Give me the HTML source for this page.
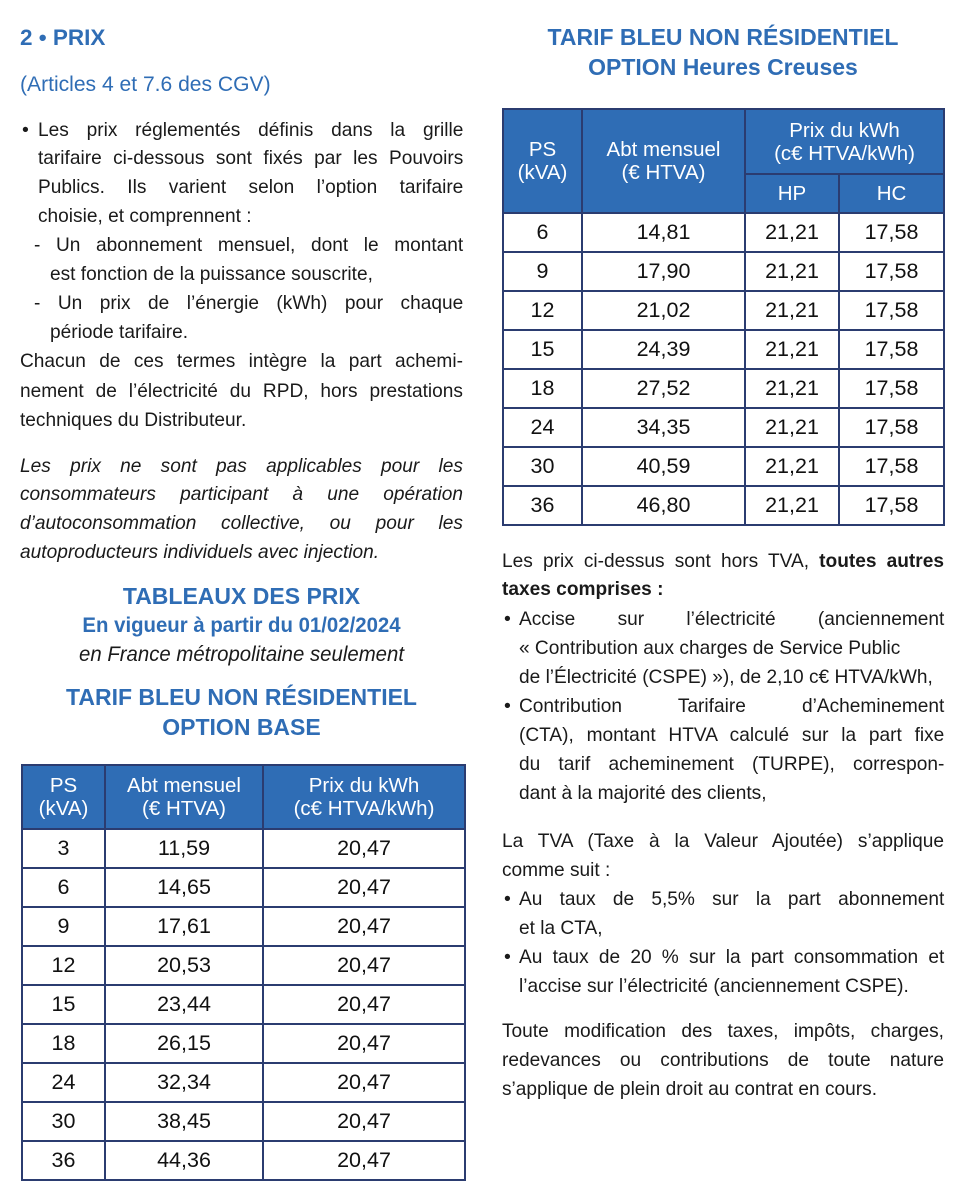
<!DOCTYPE html>
<html><head><meta charset="utf-8"><style>
body{margin:0;width:976px;height:1192px;background:#fff;position:relative;overflow:hidden;font-family:"Liberation Sans",sans-serif;color:#1a1a1a}
.l{position:absolute;font-size:19.5px;line-height:28px;height:28px;transform:scaleX(.98);transform-origin:left top;white-space:nowrap}
.j{white-space:normal;text-align:justify;text-align-last:justify;overflow:visible}
.b{color:#2f6db5;font-weight:bold}
.c{position:absolute;text-align:center;white-space:nowrap;transform-origin:center top}
table{position:absolute;border-collapse:collapse;table-layout:fixed}
td{border:2px solid #2b3c70;text-align:center;font-size:21.5px;height:37px;padding:0;color:#111}
th{border:2px solid #2b3c70;background:#2f6db5;color:#fff;font-weight:normal;font-size:20.5px;line-height:23px;padding:0}
</style></head><body>
<div class="l b" style="left:20px;top:24px;font-size:22.5px;transform:none">2 • PRIX</div>
<div class="l" style="left:20px;top:70px;color:#2f6db5;font-size:21.5px">(Articles 4 et 7.6 des CGV)</div>
<div class="l" style="left:22px;top:116px;transform:none">•</div>
<div class="l j" style="left:38px;top:116px;width:434px">Les prix réglementés définis dans la grille</div>
<div class="l j" style="left:38px;top:144px;width:434px">tarifaire ci-dessous sont fixés par les Pouvoirs</div>
<div class="l j" style="left:38px;top:173px;width:434px">Publics. Ils varient selon l’option tarifaire</div>
<div class="l" style="left:38px;top:202px">choisie, et comprennent :</div>
<div class="l j" style="left:34px;top:231px;width:438px">- Un abonnement mensuel, dont le montant</div>
<div class="l" style="left:50px;top:260px">est fonction de la puissance souscrite,</div>
<div class="l j" style="left:34px;top:289px;width:438px">- Un prix de l’énergie (kWh) pour chaque</div>
<div class="l" style="left:50px;top:318px">période tarifaire.</div>
<div class="l j" style="left:20px;top:347px;width:452px">Chacun de ces termes intègre la part achemi-</div>
<div class="l j" style="left:20px;top:377px;width:452px">nement de l’électricité du RPD, hors prestations</div>
<div class="l" style="left:20px;top:406px">techniques du Distributeur.</div>
<div class="l j" style="left:20px;top:452px;width:452px;font-style:italic">Les prix ne sont pas applicables pour les</div>
<div class="l j" style="left:20px;top:480px;width:452px;font-style:italic">consommateurs participant à une opération</div>
<div class="l j" style="left:20px;top:509px;width:452px;font-style:italic">d’autoconsommation collective, ou pour les</div>
<div class="l" style="left:20px;top:538px;font-style:italic">autoproducteurs individuels avec injection.</div>
<div class="c b" style="left:20px;width:443px;top:583px;font-size:23px">TABLEAUX DES PRIX</div>
<div class="c b" style="left:20px;width:443px;top:614px;font-size:21px;transform:scaleX(.97)">En vigueur à partir du 01/02/2024</div>
<div class="c" style="left:20px;width:443px;top:643px;font-size:21px;font-style:italic;transform:scaleX(.97)">en France métropolitaine seulement</div>
<div class="c b" style="left:20px;width:443px;top:684px;font-size:23px">TARIF BLEU NON RÉSIDENTIEL</div>
<div class="c b" style="left:20px;width:443px;top:714px;font-size:23px">OPTION BASE</div>
<div class="c b" style="left:502px;width:442px;top:24px;font-size:23px">TARIF BLEU NON RÉSIDENTIEL</div>
<div class="c b" style="left:502px;width:442px;top:54px;font-size:23px">OPTION Heures Creuses</div>

<table style="left:21px;top:764px;width:443px">
<colgroup><col style="width:83px"><col style="width:158px"><col style="width:202px"></colgroup>
<tr><th style="height:62px">PS<br>(kVA)</th><th>Abt mensuel<br>(€ HTVA)</th><th>Prix du kWh<br>(c€ HTVA/kWh)</th></tr>
<tr><td>3</td><td>11,59</td><td>20,47</td></tr>
<tr><td>6</td><td>14,65</td><td>20,47</td></tr>
<tr><td>9</td><td>17,61</td><td>20,47</td></tr>
<tr><td>12</td><td>20,53</td><td>20,47</td></tr>
<tr><td>15</td><td>23,44</td><td>20,47</td></tr>
<tr><td>18</td><td>26,15</td><td>20,47</td></tr>
<tr><td>24</td><td>32,34</td><td>20,47</td></tr>
<tr><td>30</td><td>38,45</td><td>20,47</td></tr>
<tr><td>36</td><td>44,36</td><td>20,47</td></tr>
</table>

<table style="left:502px;top:108px;width:441px">
<colgroup><col style="width:79px"><col style="width:163px"><col style="width:94px"><col style="width:105px"></colgroup>
<tr><th rowspan="2">PS<br>(kVA)</th><th rowspan="2">Abt mensuel<br>(€ HTVA)</th><th colspan="2" style="height:63px">Prix du kWh<br>(c€ HTVA/kWh)</th></tr>
<tr><th style="height:37px">HP</th><th>HC</th></tr>
<tr><td>6</td><td>14,81</td><td>21,21</td><td>17,58</td></tr>
<tr><td>9</td><td>17,90</td><td>21,21</td><td>17,58</td></tr>
<tr><td>12</td><td>21,02</td><td>21,21</td><td>17,58</td></tr>
<tr><td>15</td><td>24,39</td><td>21,21</td><td>17,58</td></tr>
<tr><td>18</td><td>27,52</td><td>21,21</td><td>17,58</td></tr>
<tr><td>24</td><td>34,35</td><td>21,21</td><td>17,58</td></tr>
<tr><td>30</td><td>40,59</td><td>21,21</td><td>17,58</td></tr>
<tr><td>36</td><td>46,80</td><td>21,21</td><td>17,58</td></tr>
</table>

<div class="l j" style="left:502px;top:547px;width:451px">Les prix ci-dessus sont hors TVA, <b>toutes autres</b></div>
<div class="l" style="left:502px;top:575px"><b>taxes comprises :</b></div>
<div class="l" style="left:504px;top:605px;transform:none">•</div>
<div class="l j" style="left:519px;top:605px;width:434px">Accise sur l’électricité (anciennement</div>
<div class="l" style="left:519px;top:634px">« Contribution aux charges de Service Public</div>
<div class="l" style="left:519px;top:663px">de l’Électricité (CSPE) »), de 2,10 c€ HTVA/kWh,</div>
<div class="l" style="left:504px;top:692px;transform:none">•</div>
<div class="l j" style="left:519px;top:692px;width:434px">Contribution Tarifaire d’Acheminement</div>
<div class="l j" style="left:519px;top:721px;width:434px">(CTA), montant HTVA calculé sur la part fixe</div>
<div class="l j" style="left:519px;top:750px;width:434px">du tarif acheminement (TURPE), correspon-</div>
<div class="l" style="left:519px;top:779px">dant à la majorité des clients,</div>
<div class="l j" style="left:502px;top:827px;width:451px">La TVA (Taxe à la Valeur Ajoutée) s’applique</div>
<div class="l" style="left:502px;top:856px">comme suit :</div>
<div class="l" style="left:504px;top:885px;transform:none">•</div>
<div class="l j" style="left:519px;top:885px;width:434px">Au taux de 5,5% sur la part abonnement</div>
<div class="l" style="left:519px;top:914px">et la CTA,</div>
<div class="l" style="left:504px;top:943px;transform:none">•</div>
<div class="l j" style="left:519px;top:943px;width:434px">Au taux de 20 % sur la part consommation et</div>
<div class="l" style="left:519px;top:972px">l’accise sur l’électricité (anciennement CSPE).</div>
<div class="l j" style="left:502px;top:1017px;width:451px">Toute modification des taxes, impôts, charges,</div>
<div class="l j" style="left:502px;top:1046px;width:451px">redevances ou contributions de toute nature</div>
<div class="l" style="left:502px;top:1075px">s’applique de plein droit au contrat en cours.</div>
</body></html>
